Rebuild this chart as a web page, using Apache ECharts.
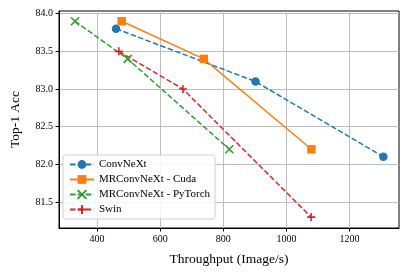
<!DOCTYPE html>
<html><head><meta charset="utf-8">
<script src="https://cdn.jsdelivr.net/npm/echarts@6/dist/echarts.min.js"></script>
<style>html,body{margin:0;padding:0;background:#fff}#c{width:409px;height:275px}</style>
</head><body><div id="c"></div>
<script>
const convnextX = [460, 902, 1307];
const convnextY = [83.8, 83.1, 82.1];
const cudaX = [478, 738, 1079];
const cudaY = [83.9, 83.4, 82.2];
const torchX = [330, 497, 819];
const torchY = [83.9, 83.4, 82.2];
const swinX = [469, 672, 1078];
const swinY = [83.5, 83.0, 81.3];
const xTicks = [400, 600, 800, 1000, 1200];
const yTicks = [81.5, 82.0, 82.5, 83.0, 83.5, 84.0];

const F = 'Liberation Serif';
const pairs = (xs, ys) => xs.map((x, i) => [x, ys[i]]);
const X_PATH = 'path://M0,0L10,10M10,0L0,10';
const PLUS_PATH = 'path://M5,0L5,10M0,5L10,5';

function ser(name, data, color, dash, symbol, size, stroke) {
  return {
    name, type: 'line', data, symbol, symbolSize: size,
    lineStyle: { color, width: 1.5, type: dash ? [5.5, 2.4] : 'solid' },
    itemStyle: stroke ? { color: 'rgba(0,0,0,0)', borderColor: color, borderWidth: 1.6 } : { color },
    emphasis: { disabled: true }, animation: false, z: 3
  };
}

const chart = echarts.init(document.getElementById('c'), null, { renderer: 'canvas' });
chart.setOption({
  animation: false,
  grid: { left: 57, right: 10, top: 11, bottom: 47, show: true, borderColor: '#000', borderWidth: 1, backgroundColor: 'transparent' },
  xAxis: {
    type: 'value', min: 279.4, max: 1356.5,
    name: 'Throughput (Image/s)', nameLocation: 'middle', nameGap: 24,
    nameTextStyle: { fontFamily: F, fontSize: 13.5, color: '#000' },
    axisLine: { show: true, onZero: false, lineStyle: { color: '#000', width: 1 } },
    axisTick: { show: true, inside: false, length: 3.5, customValues: xTicks, lineStyle: { color: '#000' } },
    axisLabel: { customValues: xTicks, fontFamily: F, fontSize: 10, color: '#000', margin: 6, formatter: v => String(v) },
    splitLine: { show: true, customValues: xTicks, lineStyle: { color: '#bdbdbd', width: 1 } }
  },
  yAxis: {
    type: 'value', min: 81.155, max: 84.036,
    name: 'Top-1 Acc', nameLocation: 'middle', nameGap: 37, nameRotate: 90,
    nameTextStyle: { fontFamily: F, fontSize: 13.5, color: '#000' },
    axisLine: { show: true, onZero: false, lineStyle: { color: '#000', width: 1 } },
    axisTick: { show: true, inside: false, length: 3.5, customValues: yTicks, lineStyle: { color: '#000' } },
    axisLabel: { customValues: yTicks, fontFamily: F, fontSize: 10, color: '#000', margin: 6, formatter: v => v.toFixed(1) },
    splitLine: { show: true, customValues: yTicks, lineStyle: { color: '#bdbdbd', width: 1 } }
  },
  legend: {
    left: 63, top: 155, orient: 'vertical', itemGap: 4, itemWidth: 24, itemHeight: 11,
    padding: [4, 5, 4, 6],
    backgroundColor: 'rgba(255,255,255,0.85)', borderColor: '#d0d0d0', borderWidth: 1, borderRadius: 3,
    textStyle: { fontFamily: F, fontSize: 11, color: '#000' },
    data: ['ConvNeXt', 'MRConvNeXt - Cuda', 'MRConvNeXt - PyTorch', 'Swin'], z: 10
  },
  series: [
    ser('ConvNeXt', pairs(convnextX, convnextY), '#1f77b4', true, 'circle', 8.5, false),
    ser('MRConvNeXt - Cuda', pairs(cudaX, cudaY), '#ff7f0e', false, 'rect', 8.5, false),
    ser('MRConvNeXt - PyTorch', pairs(torchX, torchY), '#2ca02c', true, X_PATH, 8, true),
    ser('Swin', pairs(swinX, swinY), '#d62728', true, PLUS_PATH, 8, true)
  ]
});
</script></body></html>
